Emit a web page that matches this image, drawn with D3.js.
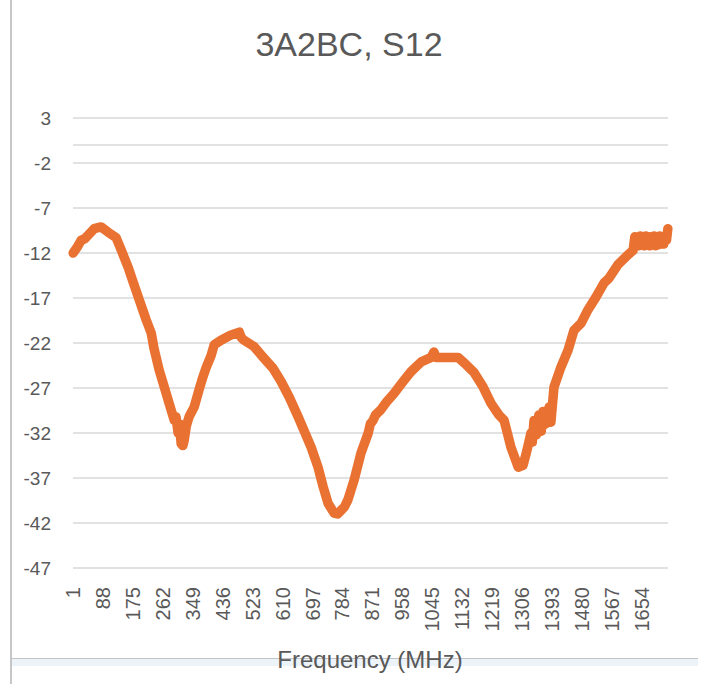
<!DOCTYPE html>
<html>
<head>
<meta charset="utf-8">
<script src="https://cdn.jsdelivr.net/npm/d3@7"></script>
<style>
  html, body { margin: 0; padding: 0; background: #fff; }
  svg { display: block; font-family: "Liberation Sans", Arial, sans-serif; }
</style>
</head>
<body>
<svg id="chart" width="707" height="684" viewBox="0 0 707 684"></svg>
<script>
// S12 readings (dB) by frequency point (MHz index)
const freq = [1, 12, 24, 35, 45, 62, 82, 103, 126, 141, 161, 175, 193, 213, 228, 236, 251, 266, 280, 295,
  300, 306, 310, 315, 320, 324, 330, 338, 353, 367, 378, 388, 402, 411, 431, 460, 484, 490, 498, 527,
  556, 582, 606, 629, 655, 672, 693, 713, 728, 742, 750, 760, 770, 780, 790, 800, 818, 838, 859, 865,
  873, 880, 896, 911, 934, 960, 983, 1013, 1042, 1050, 1055, 1071, 1100, 1120, 1138, 1167, 1193, 1216, 1239, 1254,
  1274, 1295, 1309, 1320, 1332, 1336, 1341, 1348, 1355, 1362, 1367, 1375, 1385, 1390, 1399, 1419, 1440, 1457, 1478, 1498,
  1521, 1545, 1559, 1585, 1614, 1629, 1634, 1638, 1642, 1646, 1650, 1654, 1658, 1662, 1666, 1670, 1674, 1678, 1682, 1686,
  1690, 1694, 1698, 1702, 1706, 1710, 1714, 1718, 1722, 1726, 1730];
const s12 = [-12.0, -11.4, -10.6, -10.4, -10.0, -9.3, -9.1, -9.7, -10.3, -11.7, -13.6, -15.2, -17.2, -19.4, -20.9, -22.6, -25.0, -26.9, -28.7, -30.6,
  -30.2, -32.0, -31.0, -33.2, -33.4, -32.8, -31.2, -30.2, -29.1, -27.2, -25.8, -24.7, -23.4, -22.2, -21.7, -21.1, -20.8, -21.4, -21.7, -22.4,
  -23.7, -24.8, -26.3, -28.0, -30.2, -31.7, -33.6, -35.8, -38.0, -39.8, -40.3, -40.9, -41.0, -40.6, -40.2, -39.4, -37.2, -34.2, -32.0, -31.0,
  -30.6, -30.0, -29.4, -28.6, -27.6, -26.3, -25.2, -24.1, -23.6, -23.0, -23.6, -23.6, -23.6, -23.6, -24.2, -25.3, -26.9, -28.7, -30.0, -30.6,
  -33.6, -35.8, -35.6, -34.0, -32.0, -33.0, -30.6, -32.2, -30.0, -31.8, -29.6, -31.0, -29.1, -30.8, -26.9, -24.7, -22.8, -20.6, -19.8, -18.3,
  -16.9, -15.3, -14.8, -13.3, -12.2, -11.7, -10.2, -11.2, -10.2, -11.2, -10.1, -11.1, -10.2, -11.2, -10.1, -11.1, -10.2, -11.2, -10.2, -11.1,
  -10.1, -11.2, -10.2, -11.1, -10.1, -11.0, -10.2, -11.0, -10.2, -10.6, -9.3];

const yTicks = [3, -2, -7, -12, -17, -22, -27, -32, -37, -42, -47];
const xTickLabels = [1, 88, 175, 262, 349, 436, 523, 610, 697, 784, 871, 958, 1045, 1132, 1219, 1306, 1393, 1480, 1567, 1654];
const nPoints = 1730;

const svg = d3.select("#chart");
const textColor = "#595959";

const x = d3.scaleLinear().domain([0.5, nPoints + 0.5]).range([73, 668]);
const y = d3.scaleLinear().domain([-47, 3]).range([568, 118]);

// window edge lines seen in the screenshot
svg.append("rect").attr("x", 11).attr("y", 659).attr("width", 687).attr("height", 7).attr("fill", "#edf4f9");
svg.append("line").attr("x1", 11).attr("x2", 698).attr("y1", 658.5).attr("y2", 658.5)
  .attr("stroke", "#c4c4c4").attr("stroke-width", 1);
svg.append("line").attr("x1", 11).attr("x2", 11).attr("y1", 0).attr("y2", 684)
  .attr("stroke", "#b4b4b4").attr("stroke-width", 1.5);

// Title
svg.append("text")
  .attr("x", 349).attr("y", 56)
  .attr("text-anchor", "middle")
  .attr("font-size", "34px")
  .attr("fill", textColor)
  .text("3A2BC, S12");

// Gridlines
svg.append("g").selectAll("line")
  .data(yTicks)
  .join("line")
  .attr("x1", x.range()[0]).attr("x2", x.range()[1])
  .attr("y1", d => y(d)).attr("y2", d => y(d))
  .attr("stroke", "#d9d9d9").attr("stroke-width", 1.5);

// category axis line crosses at 0
svg.append("line")
  .attr("x1", x.range()[0]).attr("x2", x.range()[1])
  .attr("y1", y(0)).attr("y2", y(0))
  .attr("stroke", "#d9d9d9").attr("stroke-width", 1.5);

// Y labels
svg.append("g").selectAll("text")
  .data(yTicks)
  .join("text")
  .attr("x", 51).attr("y", d => y(d))
  .attr("dy", "0.35em")
  .attr("text-anchor", "end")
  .attr("font-size", "19px")
  .attr("fill", textColor)
  .text(d => d);

// X labels (rotated)
svg.append("g").selectAll("text")
  .data(xTickLabels)
  .join("text")
  .attr("transform", d => `translate(${x(d)},587) rotate(-90)`)
  .attr("dy", "0.35em")
  .attr("text-anchor", "end")
  .attr("font-size", "20px")
  .attr("fill", textColor)
  .text(d => d);

// Axis title
svg.append("text")
  .attr("x", 370).attr("y", 668)
  .attr("text-anchor", "middle")
  .attr("font-size", "24px")
  .attr("fill", textColor)
  .text("Frequency (MHz)");

// Series line
const pts = freq.map((f, i) => [f, s12[i]]);
const line = d3.line().x(d => x(d[0])).y(d => y(d[1]));
svg.append("path")
  .datum(pts)
  .attr("d", line)
  .attr("fill", "none")
  .attr("stroke", "#E97132")
  .attr("stroke-width", 9.5)
  .attr("stroke-linejoin", "round")
  .attr("stroke-linecap", "round");
</script>
</body>
</html>
